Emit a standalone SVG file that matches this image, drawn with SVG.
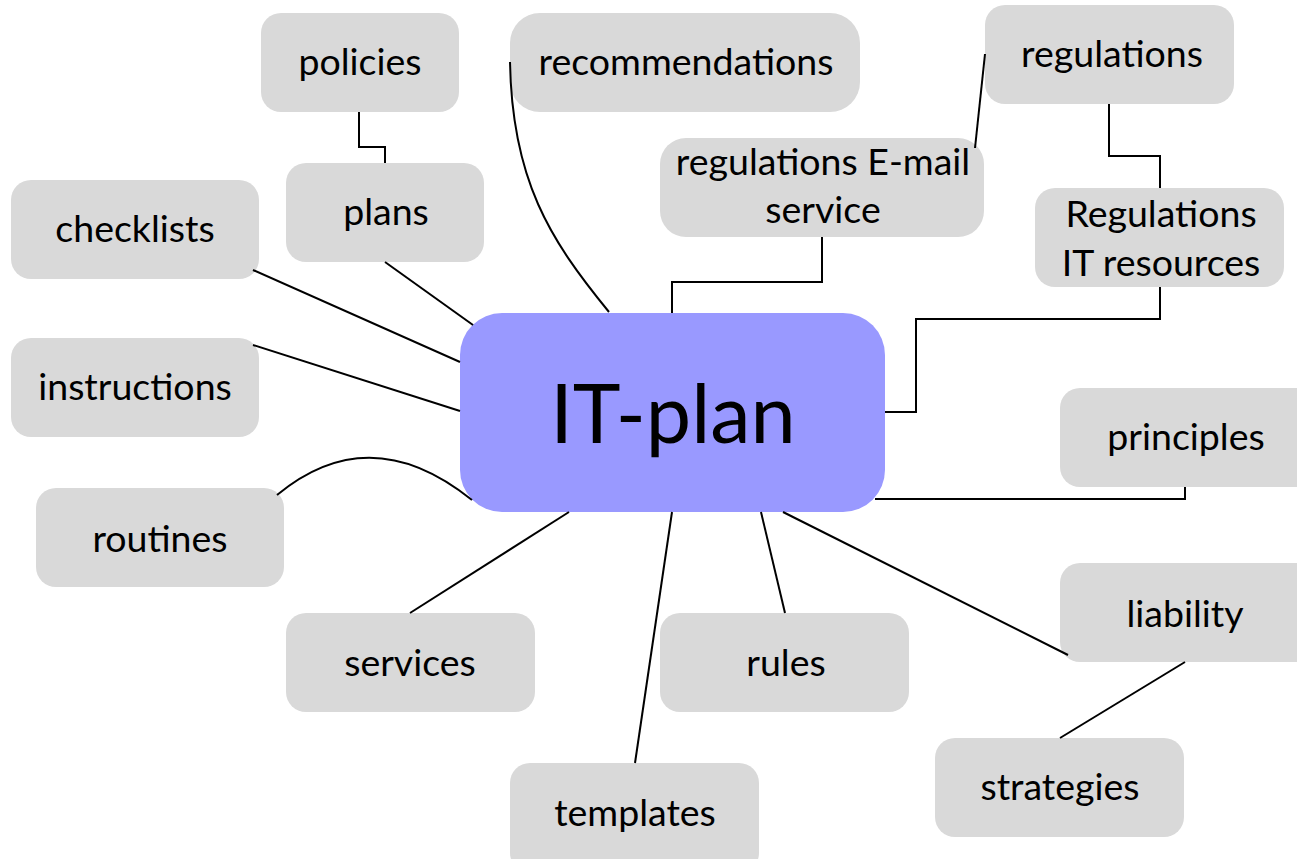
<svg xmlns="http://www.w3.org/2000/svg" width="1297" height="859" viewBox="0 0 1297 859">
<style>
.n{fill:#d9d9d9}
.c{fill:#9999ff}
text{font-family:Lato,"Liberation Sans",sans-serif;font-size:37.5px;fill:#000;text-anchor:middle}
.big{font-size:81px}
.l{fill:none;stroke:#000;stroke-width:2}
</style>
<rect width="1297" height="859" fill="#fff"/>
<g id="it-plan"><rect class="c" x="460" y="313" width="425" height="199" rx="42"/><text class="big" x="673" y="443">IT-plan</text></g>
<g id="policies"><rect class="n" x="261" y="13" width="198" height="99" rx="20"/><text x="360" y="75">policies</text></g>
<g id="recommendations"><rect class="n" x="510" y="13" width="350" height="99" rx="30"/><text x="686" y="75">recommendations</text></g>
<g id="regulations"><rect class="n" x="985" y="5" width="249" height="99" rx="20"/><text x="1112" y="67">regulations</text></g>
<g id="regulations-email"><rect class="n" x="660" y="138" width="324" height="99" rx="26"/><text x="823" y="175">regulations E-mail</text><text x="823" y="223">service</text></g>
<g id="regulations-it"><rect class="n" x="1035" y="188" width="249" height="99" rx="20"/><text x="1161" y="227">Regulations</text><text x="1161" y="276">IT resources</text></g>
<g id="plans"><rect class="n" x="286" y="163" width="198" height="99" rx="20"/><text x="386" y="225">plans</text></g>
<g id="checklists"><rect class="n" x="11" y="180" width="248" height="99" rx="20"/><text x="135" y="242">checklists</text></g>
<g id="instructions"><rect class="n" x="11" y="338" width="248" height="99" rx="20"/><text x="135" y="400">instructions</text></g>
<g id="principles"><rect class="n" x="1060" y="388" width="260" height="99" rx="20"/><text x="1186" y="450">principles</text></g>
<g id="routines"><rect class="n" x="36" y="488" width="248" height="99" rx="20"/><text x="160" y="552">routines</text></g>
<g id="services"><rect class="n" x="286" y="613" width="249" height="99" rx="20"/><text x="410" y="676">services</text></g>
<g id="rules"><rect class="n" x="660" y="613" width="249" height="99" rx="20"/><text x="786" y="676">rules</text></g>
<g id="liability"><rect class="n" x="1060" y="563" width="260" height="99" rx="20"/><text x="1185" y="627">liability</text></g>
<g id="strategies"><rect class="n" x="935" y="738" width="249" height="99" rx="20"/><text x="1060" y="800">strategies</text></g>
<g id="templates"><rect class="n" x="510" y="763" width="249" height="110" rx="20"/><text x="635" y="826">templates</text></g>
<g id="connectors">
<polyline class="l" points="359,112 359,147 385,147 385,163"/>
<line class="l" x1="385" y1="262" x2="473" y2="325"/>
<line class="l" x1="253" y1="270" x2="460" y2="362"/>
<line class="l" x1="253" y1="345" x2="460" y2="411"/>
<path class="l" d="M277,495 Q370,418 472,500"/>
<line class="l" x1="410" y1="613" x2="569" y2="512"/>
<line class="l" x1="635" y1="763" x2="672" y2="512"/>
<line class="l" x1="785" y1="613" x2="761" y2="512"/>
<line class="l" x1="1068" y1="655" x2="783" y2="512"/>
<line class="l" x1="1185" y1="662" x2="1060" y2="738"/>
<polyline class="l" points="1185,487 1185,499 875,499"/>
<polyline class="l" points="1160,287 1160,319 916,319 916,412 885,412"/>
<polyline class="l" points="1109,104 1109,156 1160,156 1160,188"/>
<line class="l" x1="975" y1="148" x2="985" y2="54"/>
<polyline class="l" points="822,237 822,282 672,282 672,313"/>
<path class="l" d="M510,62 C512,180 550,240 609,312"/>
</g>
</svg>
